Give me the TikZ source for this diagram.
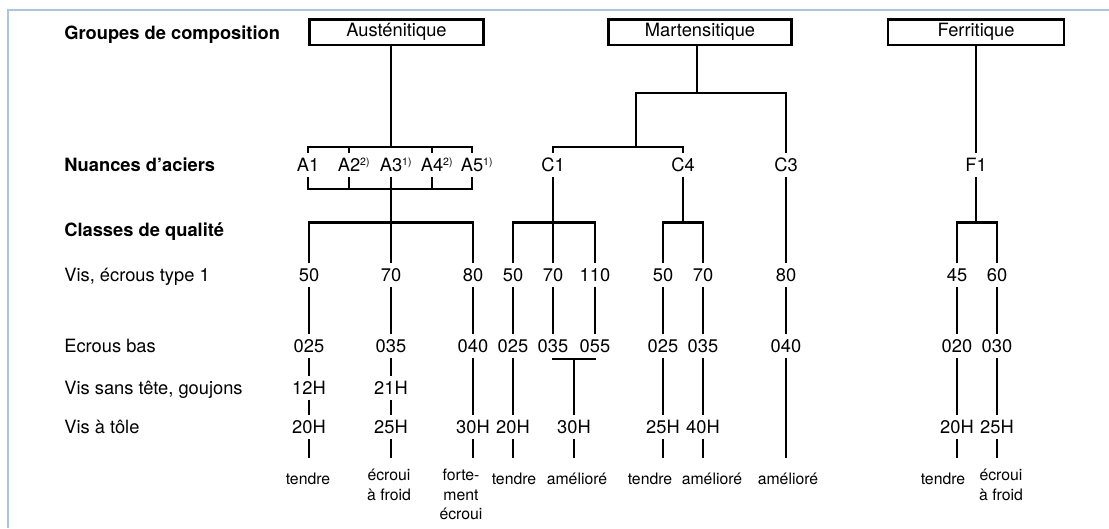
\documentclass[tikz,border=0pt]{standalone}
\usepackage{fontspec}
\setmainfont{TeX Gyre Heros}
\definecolor{framebl}{RGB}{170,196,234}
\newcommand{\fn}[1]{\raisebox{6.5pt}{\fontsize{10.5}{10.5}\selectfont #1}}

\begin{document}
\begin{tikzpicture}
    [
        x=1pt, y=-1pt,
        line width=2.7pt,
        grp/.style={draw, line width=2.5pt, minimum width=174pt, minimum height=25.5pt, inner sep=0pt, font=\fontsize{18.3}{22}\selectfont},
        row/.style={anchor=base west, inner sep=0pt, font=\fontsize{18.3}{22}\selectfont},
        rowb/.style={row, font=\fontsize{18.3}{22}\selectfont\bfseries},
        val/.style={inner xsep=1pt, inner ysep=4pt, text height=13pt, text depth=0pt, font=\fontsize{18.3}{22}\selectfont},
        note/.style={anchor=north, align=center, inner sep=0pt, font=\fontsize{15.8}{19.3}\selectfont,
            execute at begin node=\rule{0pt}{15pt}}
    ]
    % frame
    \draw[framebl, line width=2.8pt] (8,528) -- (8,10) -- (1109,10);

    % row labels
    \node[rowb] (lgrp) at (63,39.5) {Groupes de composition};
    \node[rowb] (lnua) at (63,171.5) {Nuances d’aciers};
    \node[rowb] (lcla) at (63,236.5) {Classes de qualité};
    \node[row] (lvis) at (63,281.5) {Vis, écrous type 1};
    \node[row] (lecr) at (63,352.5) {Ecrous bas};
    \node[row] (lgou) at (63,394.5) {Vis sans tête, goujons};
    \node[row] (ltol) at (63,433.5) {Vis à tôle};

    % composition groups
    \node[grp] (aust) at (396.5,32) {Austénitique};
    \node[grp, minimum width=183pt] (mart) at (700,32) {Martensitique};
    \node[grp, minimum width=176pt] (ferr) at (976,32) {Ferritique};

    % steel grades
    \node[val] (a1) at (308,165) {A1};
    \node[val] (a2) at (349,165) {A2\rlap{\fn{2)}}};
    \node[val] (a3) at (391,165) {A3\rlap{\fn{1)}}};
    \node[val] (a4) at (432,165) {A4\rlap{\fn{2)}}};
    \node[val] (a5) at (472,165) {A5\rlap{\fn{1)}}};
    \node[val] (c1) at (553,165) {C1};
    \node[val] (c4) at (683,165) {C4};
    \node[val] (c3) at (786,165) {C3};
    \node[val] (f1) at (976,165) {F1};

    \coordinate (aTop) at (391,147);
    \coordinate (aBot) at (391,189);
    \coordinate (mTop) at (697,93);
    \coordinate (cTop) at (636,147);
    \coordinate (cls) at (0,222.5);
    \coordinate (eBr) at (574,359);
    \coordinate (foot) at (0,458);

    % austenitic
    \draw (aust.south -| aTop) -- (aTop);
    \draw (a1.north) -- (a1.north |- aTop) -- (a5.north |- aTop) -- (a5.north);
    \draw (a2.north) -- (a2.north |- aTop);
    \draw (a4.north) -- (a4.north |- aTop);
    \draw (a1.south) -- (a1.south |- aBot) -- (a5.south |- aBot) -- (a5.south);
    \draw (a2.south) -- (a2.south |- aBot);
    \draw (a4.south) -- (a4.south |- aBot);

    % martensitic
    \draw (mart.south -| mTop) -- (mTop);
    \draw (cTop) -- (cTop |- mTop) -- (c3.north |- mTop) -- (c3.north);
    \draw (c1.north) -- (c1.north |- cTop) -- (c4.north |- cTop) -- (c4.north);

    % ferritic
    \draw (ferr) -- (f1);

    % property classes
    \foreach \n/\x/\v/\e in {1/309/50/025, 2/391/70/035, 3/473/80/040,
        4/513/50/025, 5/553/70/035, 6/595/110/055, 7/663/50/025,
        8/703/70/035, 9/786/80/040, 10/957/45/020, 11/997/60/030}
    {
        \node[val] (v\n) at (\x,275) {\v};
        \node[val] (e\n) at (\x,346) {\e};
        \draw (v\n) -- (e\n);
    }
    \draw (a3) -- (v2);
    \draw (v1.north) -- (v1.north |- cls) -- (v3.north |- cls) -- (v3.north);
    \draw (c1) -- (v5);
    \draw (v4.north) -- (v4.north |- cls) -- (v6.north |- cls) -- (v6.north);
    \draw (c4.south) -- (c4.south |- cls);
    \draw (v7.north) -- (v7.north |- cls) -- (v8.north |- cls) -- (v8.north);
    \draw (c3) -- (v9);
    \draw (f1.south) -- (f1.south |- cls);
    \draw (v10.north) -- (v10.north |- cls) -- (v11.north |- cls) -- (v11.north);

    % set screws, tapping screws
    \node[val] (g1) at (309,388) {12H};
    \node[val] (g2) at (391,388) {21H};
    \foreach \n/\x/\t in {1/309/20H, 2/391/25H, 3/473/30H, 4/513/20H, 56/574/30H,
        7/663/25H, 8/703/40H, 10/957/20H, 11/997/25H}
        \node[val] (t\n) at (\x,427) {\t};

    \draw (e1) -- (g1);
    \draw (g1) -- (t1);
    \draw (e2) -- (g2);
    \draw (g2) -- (t2);
    \foreach \n in {3,4,7,8,10,11}
        \draw (e\n) -- (t\n);
    \draw (e5.south) -- (e5.south |- eBr) -- (e6.south |- eBr) -- (e6.south);
    \draw (eBr) -- (t56);
    \foreach \n in {1,2,3,4,56,7,8,10,11}
        \draw (t\n) -- (t\n.south |- foot);
    \draw (e9) -- (e9.south |- foot);

    % state
    \foreach \n/\x/\s in {1/308/tendre, 2/389/{écroui\\à froid}, 3/461/{forte-\\ment\\écroui},
        4/514/tendre, 5/577/amélioré, 6/650/tendre, 7/712/amélioré,
        8/788/amélioré, 9/943/tendre, 10/1001/{écroui\\à froid}}
        \node[note] (s\n) at (\x,468) {\s};

    \pgfresetboundingbox
    \useasboundingbox (0,0) rectangle (1109,528);
\end{tikzpicture}
\end{document}
